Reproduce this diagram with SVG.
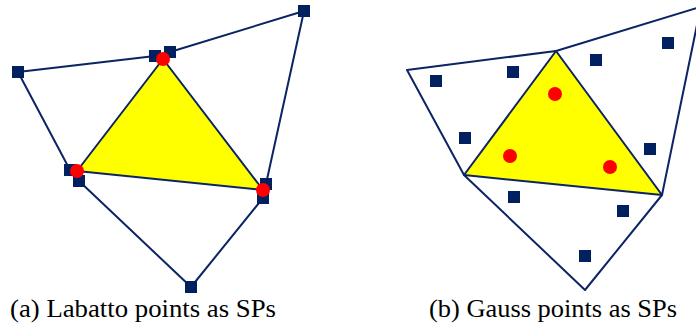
<svg xmlns="http://www.w3.org/2000/svg" width="696" height="324" viewBox="0 0 696 324">
<style>
.e{fill:none;stroke:#0b2463;stroke-width:2;stroke-linejoin:round}
.y{fill:#ffff00;stroke:#0b2463;stroke-width:2;stroke-linejoin:round}
.sq{fill:#002060}
.rp{fill:#ff0000}
.cap{font-family:"Liberation Serif","Times New Roman",serif;font-size:25px;fill:#000}
</style>
<defs>
<rect id="s" class="sq" x="-6" y="-6" width="12" height="12"/>
<circle id="c" class="rp" cx="0" cy="0" r="7"/>
</defs>
<g id="connectors">
<g id="panel-a-edges">
<polygon id="a-tri" class="y" points="163,59 77,171 263,190"/>
<polyline class="e" points="155,56 18,72 70,170"/>
<polyline class="e" points="170,52 304,11 266,184"/>
<polyline class="e" points="79,181 191,287 263,198"/>
</g>
<g id="panel-b-edges">
<polygon id="b-tri" class="y" points="556,51 464,175 662,195"/>
<polyline class="e" points="556,51 407,70 464,175 585,290 662,195 698,20"/>
<line class="e" x1="556" y1="51" x2="700" y2="7"/>
</g>
</g>
<g id="panel-a-nodes">
<use href="#s" x="18" y="72"/>
<use href="#s" x="155" y="56"/>
<use href="#s" x="170" y="52"/>
<use href="#s" x="304" y="11"/>
<use href="#s" x="70" y="170"/>
<use href="#s" x="79" y="181"/>
<use href="#s" x="266" y="184"/>
<use href="#s" x="263" y="198"/>
<use href="#s" x="191" y="287"/>
<use href="#c" x="163" y="59"/>
<use href="#c" x="77" y="171"/>
<use href="#c" x="263" y="190"/>
</g>
<g id="panel-b-nodes">
<use href="#s" x="436" y="81"/>
<use href="#s" x="513" y="72"/>
<use href="#s" x="596" y="60"/>
<use href="#s" x="668" y="43"/>
<use href="#s" x="465" y="138"/>
<use href="#s" x="650" y="149"/>
<use href="#s" x="514" y="197"/>
<use href="#s" x="623" y="211"/>
<use href="#s" x="585" y="256"/>
<use href="#c" x="555" y="94"/>
<use href="#c" x="510" y="156"/>
<use href="#c" x="610" y="167"/>
</g>
<g id="captions">
<text class="cap" x="10" y="317" textLength="266" lengthAdjust="spacingAndGlyphs">(a) Labatto points as SPs</text>
<text class="cap" x="429" y="317" textLength="248" lengthAdjust="spacingAndGlyphs">(b) Gauss points as SPs</text>
</g>
</svg>
